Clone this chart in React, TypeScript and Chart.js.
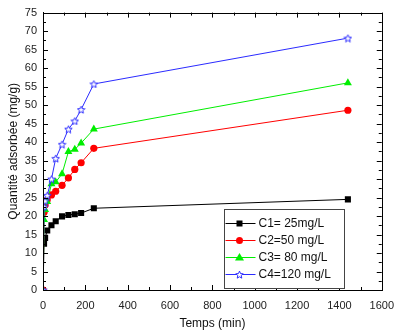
import React, { useEffect, useRef } from "react";
import { Chart, registerables } from "chart.js";

Chart.register(...registerables);

const times = [0, 5, 10, 20, 40, 60, 90, 120, 150, 180, 240, 1440];
const c1 = [0, 12.5, 14.1, 16.1, 17.5, 18.6, 19.9, 20.3, 20.5, 20.8, 22.1, 24.5];
const c2 = [0, 21.0, 23.0, 24.4, 25.7, 26.7, 28.3, 30.3, 32.6, 34.4, 38.3, 48.6];
const c3 = [0, 19.0, 21.7, 23.9, 28.7, 29.2, 31.4, 37.4, 38.0, 39.7, 43.5, 56.0];
const c4 = [0, 22.5, 24.1, 25.6, 30.0, 35.6, 39.4, 43.5, 45.7, 48.8, 55.7, 68.1];
const seriesLabels = ["C1= 25mg/L", "C2=50 mg/L", "C3= 80 mg/L", "C4=120 mg/L"];
const xTitle = "Temps (min)";
const yTitle = "Quantité adsorbée (mg/g)";

const FONT = "'Liberation Sans', Arial, sans-serif";

function makeStar(color: string, size: number) {
  const c = document.createElement("canvas");
  c.width = size;
  c.height = size;
  const ctx = c.getContext("2d")!;
  const cx = size / 2, cy = size / 2;
  const R = size / 2 - 0.6, r = R * 0.45;
  ctx.beginPath();
  for (let i = 0; i < 10; i++) {
    const rad = i % 2 === 0 ? R : r;
    const a = -Math.PI / 2 + (i * Math.PI) / 5;
    const px = cx + rad * Math.cos(a), py = cy + rad * Math.sin(a) + 0.5;
    if (i === 0) ctx.moveTo(px, py); else ctx.lineTo(px, py);
  }
  ctx.closePath();
  ctx.fillStyle = "#ffffff";
  ctx.fill();
  ctx.strokeStyle = color;
  ctx.lineWidth = 1;
  ctx.stroke();
  return c;
}

export default function App() {
  const ref = useRef<HTMLCanvasElement>(null);
  useEffect(() => {
    const star = makeStar("#2b2bff", 9);
    const colors = ["#000000", "#ff0000", "#00ee00", "#2b2bff"];
    const styles: any[] = ["rect", "circle", "triangle", star];
    const radii = [4.3, 3.6, 4.6, 4.5];
    const values = [c1, c2, c3, c4];
    const orders = [3, 2, 1, 0];

    const frame = {
      id: "frame",
      afterDatasetsDraw(chart: any) {
        const { ctx, chartArea: a, scales } = chart;
        ctx.save();
        ctx.strokeStyle = "#000";
        ctx.lineWidth = 1;
        ctx.strokeRect(Math.round(a.left) + 0.5, Math.round(a.top) + 0.5, Math.round(a.right - a.left), Math.round(a.bottom - a.top));
        ctx.beginPath();
        for (let v = 0; v <= 1600; v += 100) {
          const x = Math.round(scales.x.getPixelForValue(v)) + 0.5;
          const len = v % 200 === 0 ? 5 : 3;
          ctx.moveTo(x, a.bottom); ctx.lineTo(x, a.bottom - len);
          ctx.moveTo(x, a.top); ctx.lineTo(x, a.top + len);
        }
        for (let v = 0; v <= 75; v += 2.5) {
          const y = Math.round(scales.y.getPixelForValue(v)) + 0.5;
          const len = v % 5 === 0 ? 5 : 3;
          ctx.moveTo(a.left, y); ctx.lineTo(a.left + len, y);
          ctx.moveTo(a.right, y); ctx.lineTo(a.right - len, y);
        }
        ctx.stroke();

        // legend box
        const lx = Math.round(a.left + (a.right - a.left) * 0.535) + 0.5;
        const ly = Math.round(a.top + (a.bottom - a.top) * 0.707) + 0.5;
        const lw = 120, lh = 79;
        ctx.fillStyle = "#fff";
        ctx.fillRect(lx, ly, lw, lh);
        ctx.strokeStyle = "#444";
        ctx.strokeRect(lx, ly, lw, lh);
        ctx.font = `12px ${FONT}`;
        ctx.textBaseline = "middle";
        for (let i = 0; i < 4; i++) {
          const y = ly + 14 + i * 17;
          ctx.strokeStyle = colors[i];
          ctx.beginPath();
          ctx.moveTo(lx + 1, y);
          ctx.lineTo(lx + 31, y);
          ctx.stroke();
          const mx = lx + 15;
          ctx.fillStyle = colors[i];
          if (i === 0) ctx.fillRect(mx - 3, y - 3, 6, 6);
          else if (i === 1) { ctx.beginPath(); ctx.arc(mx, y, 3.5, 0, Math.PI * 2); ctx.fill(); }
          else if (i === 2) { ctx.beginPath(); ctx.moveTo(mx, y - 4.5); ctx.lineTo(mx + 4.5, y + 3); ctx.lineTo(mx - 4.5, y + 3); ctx.closePath(); ctx.fill(); }
          else ctx.drawImage(star, mx - 4.5, y - 4.5);
          ctx.fillStyle = "#111";
          ctx.fillText(seriesLabels[i], lx + 34, y + 0.5);
        }
        ctx.restore();
      },
    };

    const chart = new Chart(ref.current!, {
      type: "line",
      data: {
        datasets: values.map((vals, i) => ({
          label: seriesLabels[i],
          data: times.map((t, j) => ({ x: t, y: vals[j] })),
          borderColor: colors[i],
          backgroundColor: colors[i],
          borderWidth: 1,
          pointStyle: styles[i],
          pointRadius: radii[i],
          pointBorderWidth: 0,
          pointBackgroundColor: colors[i],
          order: orders[i],
          tension: 0,
        })),
      },
      options: {
        responsive: false,
        animation: false,
        layout: { padding: { top: 8, right: 12, left: 0, bottom: 0 } },
        plugins: { legend: { display: false }, tooltip: { enabled: false } },
        scales: {
          x: {
            type: "linear",
            min: 0,
            max: 1600,
            ticks: { stepSize: 200, color: "#222", padding: 9, font: { size: 11, family: FONT }, maxRotation: 0, callback: (v: any) => String(v) },
            grid: { display: true, drawOnChartArea: false, drawTicks: false, color: "#000" },
            border: { display: true, color: "#000" },
            title: { display: true, text: xTitle, color: "#111", font: { size: 12, family: FONT }, padding: { top: 0, bottom: 1 } },
            afterFit: (s: any) => { s.height = 42; },
          },
          y: {
            type: "linear",
            min: 0,
            max: 75,
            ticks: { stepSize: 5, color: "#222", padding: 6, font: { size: 11, family: FONT }, callback: (v: any) => String(v) },
            grid: { display: true, drawOnChartArea: false, drawTicks: false, color: "#000" },
            border: { display: true, color: "#000" },
            title: { display: true, text: yTitle, color: "#111", font: { size: 12, family: FONT }, padding: { top: 6, bottom: 0 } },
            afterFit: (s: any) => { s.width = 43; },
          },
        },
      },
      plugins: [frame],
    } as any);
    return () => chart.destroy();
  }, []);

  return (
    <div style={{ position: "fixed", left: 0, top: 0, width: 403, height: 332, background: "#fff" }}>
      <canvas ref={ref} width={403} height={332} style={{ display: "block" }} />
    </div>
  );
}
